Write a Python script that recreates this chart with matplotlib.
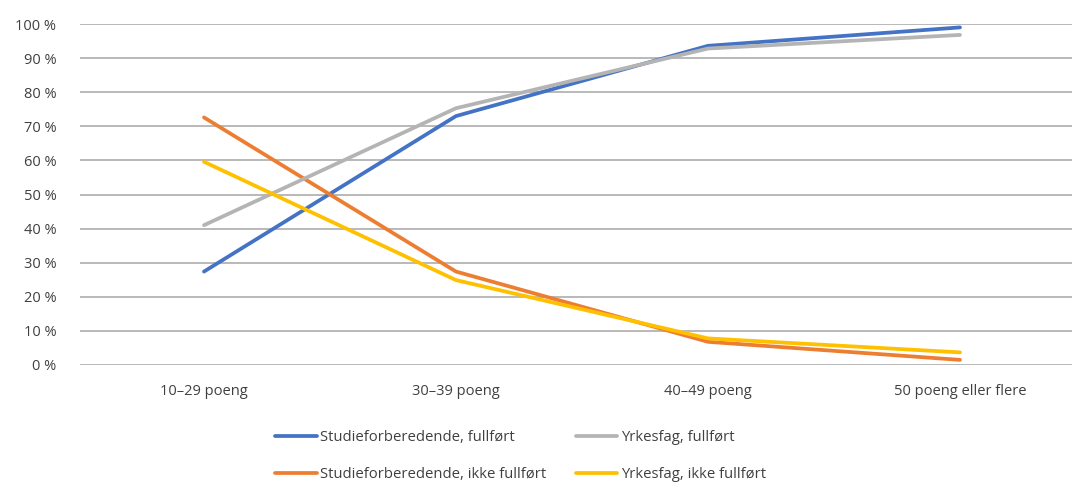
import matplotlib.pyplot as plt
import matplotlib.ticker as mticker

categories = ['10–29 poeng', '30–39 poeng', '40–49 poeng', '50 poeng eller flere']
studie_fullfort = [27.4, 73.0, 93.6, 99.0]
studie_ikke = [72.6, 27.4, 6.8, 1.5]
yrkes_fullfort = [41.0, 75.3, 92.8, 96.8]
yrkes_ikke = [59.6, 24.9, 7.8, 3.7]

series = [
    ('Studieforberedende, fullført', studie_fullfort, '#4472C4'),
    ('Studieforberedende, ikke fullført', studie_ikke, '#ED7D31'),
    ('Yrkesfag, fullført', yrkes_fullfort, '#B4B4B4'),
    ('Yrkesfag, ikke fullført', yrkes_ikke, '#FFC000'),
]


def main():
    plt.rcParams['font.family'] = ['Open Sans', 'DejaVu Sans']
    fig = plt.figure(figsize=(10.72, 4.84), dpi=100)
    ax = fig.add_axes([80 / 1072, 119 / 484, 992 / 1072, 341 / 484])

    x = list(range(len(categories)))
    for label, vals, color in series:
        ax.plot(x, vals, color=color, lw=2.7, label=label, solid_capstyle='round')

    ax.set_ylim(0, 100)
    ax.set_xlim(-0.492, -0.492 + 992 / 252)
    ax.set_yticks(range(0, 101, 10))
    ax.yaxis.set_major_formatter(mticker.FuncFormatter(lambda v, p: f'{int(v)} %'))
    ax.set_xticks(x)
    ax.set_xticklabels(categories)
    ax.grid(axis='y', color='#a6a6a6', lw=1.1)
    ax.set_axisbelow(True)
    for s in ax.spines.values():
        s.set_visible(False)
    ax.tick_params(length=0, labelsize=10.5, colors='#404040')
    ax.tick_params(axis='y', pad=17)
    ax.tick_params(axis='x', pad=14)

    fig.legend(loc='center left', bbox_to_anchor=(275 / 1072, 28 / 484), ncol=2,
               frameon=False, fontsize=10.7, handlelength=2.8, labelspacing=1.5,
               columnspacing=1.95, handletextpad=0.25, borderpad=0, borderaxespad=0,
               labelcolor='#404040')

    fig.savefig('out.png', dpi=100)
    plt.close()


if __name__ == '__main__':
    main()
